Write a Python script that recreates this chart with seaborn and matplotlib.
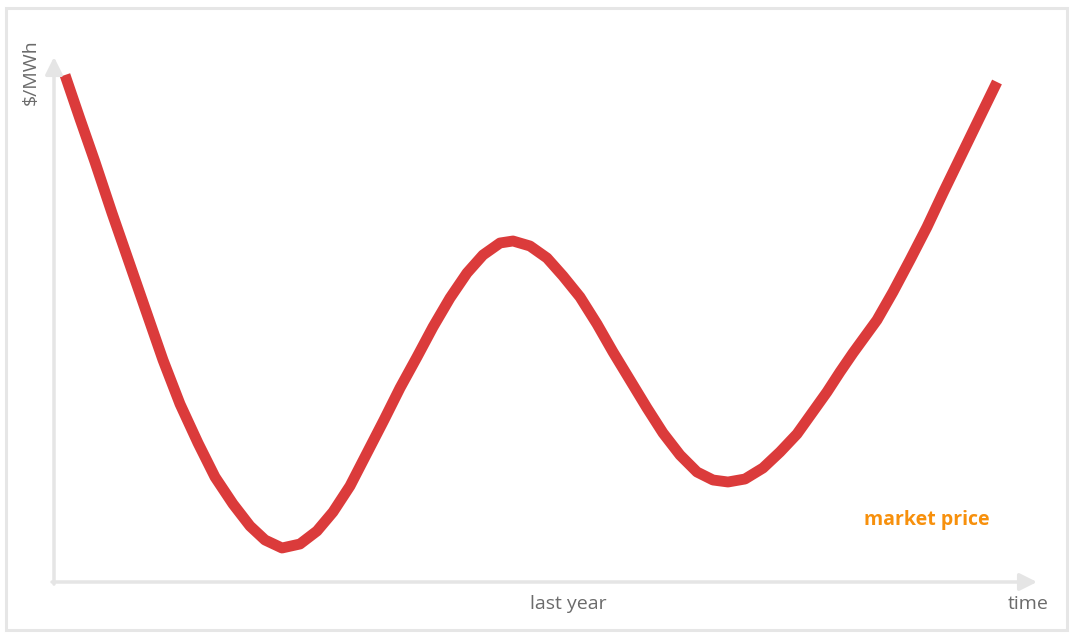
import matplotlib
matplotlib.use("Agg")
import matplotlib.pyplot as plt
from matplotlib.patches import Rectangle
import seaborn as sns
import pandas as pd

# Market price path over time (relative units)
time = [11, 26, 41, 58, 75, 92, 109, 126, 144, 161, 179, 196, 211, 228, 246, 263, 279,
        296, 313, 330, 346, 363, 379, 396, 413, 429, 446, 459, 476, 493, 509, 526, 543,
        559, 576, 593, 609, 626, 643, 659, 674, 691, 709, 726, 743, 758, 773, 786, 799,
        823, 839, 856, 873, 889, 906, 923, 943]
price = [507, 463, 420, 369, 320, 271, 222, 178, 139, 105, 78, 56, 42, 34, 38, 51, 70,
         96, 129, 162, 194, 225, 255, 284, 309, 327, 339, 341, 336, 324, 306, 285, 258,
         230, 202, 174, 149, 127, 110, 102, 100, 103, 114, 130, 148, 169, 190, 210, 229,
         262, 290, 322, 355, 389, 424, 459, 500]

x_label = "last year"
x_end_label = "time"
y_label = "$/MWh"
series_label = "market price"

sns.set_style("white")
plt.rcParams["font.family"] = ["Open Sans", "DejaVu Sans"]

fig = plt.figure(figsize=(10.73, 6.34), dpi=100)
ax = fig.add_axes([54 / 1073, 1 - 582 / 634, (1037 - 54) / 1073, (582 - 57) / 634])

df = pd.DataFrame({"time": time, "price": price})
sns.lineplot(data=df, x="time", y="price", ax=ax, color="#db3b3b", linewidth=7.8,
             solid_capstyle="butt", solid_joinstyle="round", sort=False)

ax.set_xlim(0, 983)
ax.set_ylim(0, 525)
ax.set_xticks([])
ax.set_yticks([])
ax.set_xlabel("")
ax.set_ylabel("")
for s in ax.spines.values():
    s.set_visible(False)

axis_color = "#e5e5e5"
arrow = dict(arrowstyle="-|>", color=axis_color, lw=2.5, mutation_scale=26,
             shrinkA=0, shrinkB=0)
ax.annotate("", xy=(0, 1), xytext=(0, -0.004), xycoords="axes fraction",
            arrowprops=arrow, annotation_clip=False)
ax.annotate("", xy=(1, 0), xytext=(-0.002, 0), xycoords="axes fraction",
            arrowprops=arrow, annotation_clip=False)

text_color = "#6b6b6b"
fig.text(31 / 1073, 1 - 72 / 634, y_label, rotation=90, ha="center", va="center",
         fontsize=14, color=text_color)
fig.text(568 / 1073, 1 - 604 / 634, x_label, ha="center", va="center",
         fontsize=14, color=text_color)
fig.text(1028 / 1073, 1 - 604 / 634, x_end_label, ha="center", va="center",
         fontsize=14, color=text_color)
fig.text(927 / 1073, 1 - 520 / 634, series_label, ha="center", va="center",
         fontsize=14, color="#f7900c", fontweight="bold")

# light frame around the whole figure
fig.patches.append(Rectangle((6 / 1073, 1 - 630 / 634), (1067 - 6) / 1073, (630 - 8) / 634,
                             transform=fig.transFigure, fill=False,
                             edgecolor="#e6e6e6", linewidth=2.2))

fig.savefig("out.png", dpi=100)
